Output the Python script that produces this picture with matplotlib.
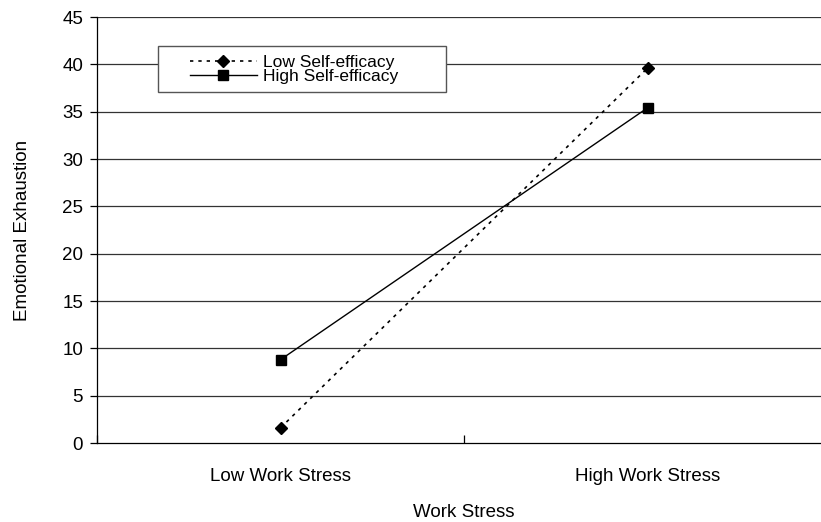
import numpy as np
import matplotlib.pyplot as plt
from matplotlib.patches import Rectangle

plt.rcParams['font.family'] = ['Liberation Sans', 'DejaVu Sans']

categories = ['Low Work Stress', 'High Work Stress']
low_se = [1.6, 39.6]
high_se = [8.8, 35.4]

fig = plt.figure(figsize=(8.21, 5.22), dpi=100)
# the plot area runs past the right edge in the original
ax = fig.add_axes([97/821, 1 - 443/522, (831 - 97)/821, (443 - 17)/522])

x = np.arange(len(categories)) + 0.5
for y in range(5, 50, 5):
    ax.axhline(y, color='#333333', lw=0.9, zorder=1)

ax.plot(x, low_se, color='black', ls=(0, (2, 3)), lw=1.2, marker='D', ms=6.5,
        label='Low Self-efficacy', zorder=3)
ax.plot(x, high_se, color='black', ls='-', lw=1.0, marker='s', ms=7,
        label='High Self-efficacy', zorder=3)

fs = 13.5
ax.set_xlim(0, 2)
ax.set_ylim(0, 45)
ax.set_yticks(range(0, 50, 5))
ax.set_xticks([0, 1, 2])
ax.set_xticklabels([])
ax.set_xticks(x, minor=True)
ax.set_xticklabels(categories, minor=True, fontsize=fs)
ax.tick_params(axis='x', which='minor', length=0, pad=18)
ax.tick_params(axis='x', which='major', length=6, direction='in', width=0.9)
ax.tick_params(axis='y', length=5, direction='out', width=0.9, labelsize=fs, pad=5)
for s in ['top', 'right']:
    ax.spines[s].set_visible(False)
ax.spines['left'].set_linewidth(0.9)
ax.spines['bottom'].set_linewidth(0.9)

ax.set_xlabel('Work Stress', fontsize=fs)
ax.xaxis.set_label_coords(0.5, -(504 - 443)/426)
ax.set_ylabel('Emotional Exhaustion', fontsize=fs)
ax.yaxis.set_label_coords(-(97 - 31)/734, 0.5)

# legend box
ax.add_patch(Rectangle(((158 - 97)/734, (443 - 92)/426), 288/734, 46/426,
                       transform=ax.transAxes, facecolor='white', edgecolor='#555555',
                       lw=1.0, zorder=4))
leg = ax.legend(loc='center left', bbox_to_anchor=((190 - 97)/734, (443 - 69.5)/426),
                frameon=False, fontsize=12.5, handlelength=3.85, handletextpad=0.35,
                labelspacing=-0.05, borderpad=0, borderaxespad=0)
leg.set_zorder(5)

fig.savefig('out.png', dpi=100)
